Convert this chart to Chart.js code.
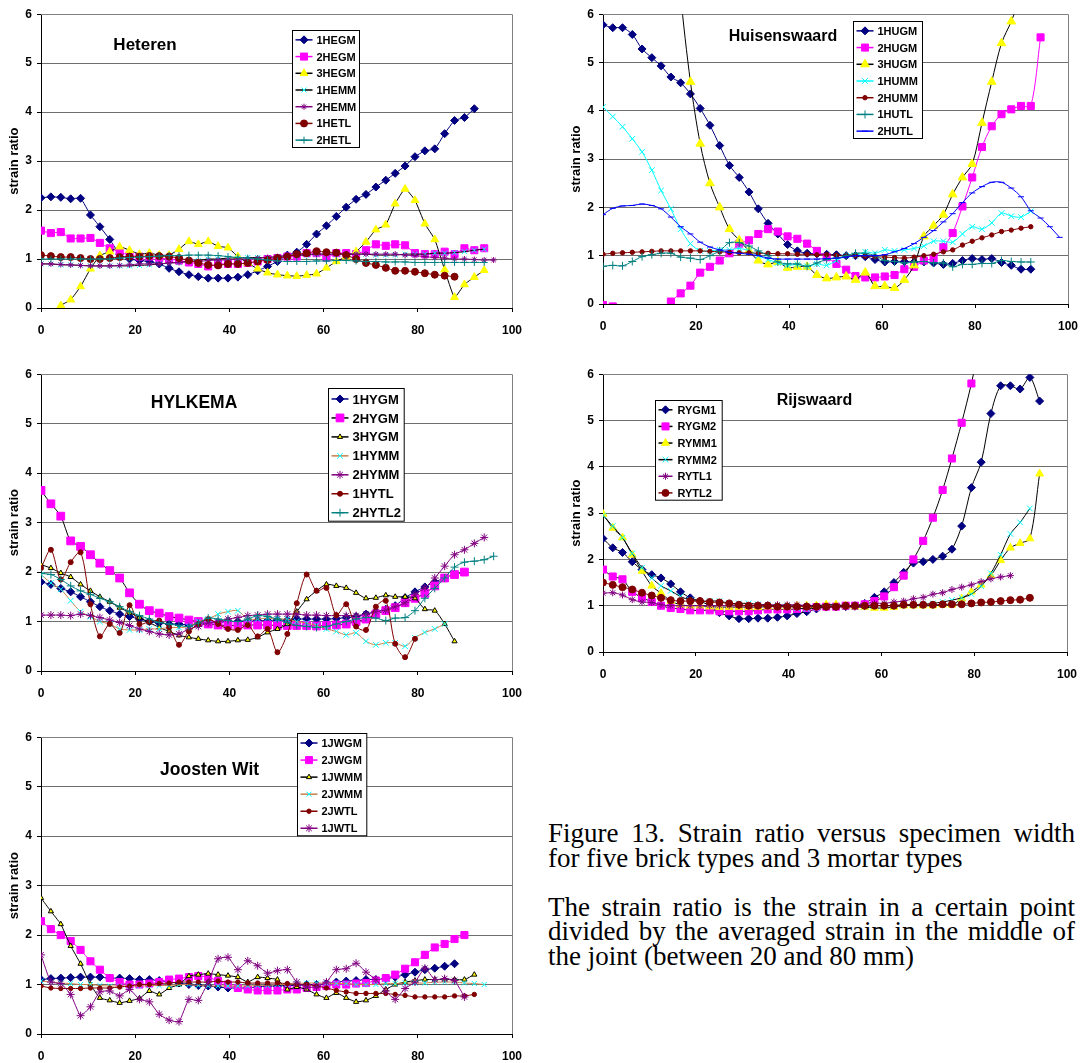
<!DOCTYPE html>
<html>
<head>
<meta charset="utf-8">
<script src="https://cdn.jsdelivr.net/npm/chart.js@4.4.0/dist/chart.umd.min.js"></script>
<style>
  body { margin: 0; background: #fff; width: 1080px; height: 1063px; position: relative; overflow: hidden; }
  canvas { position: absolute; }
  .note { position: absolute; left: 548px; top: 821px; width: 527px; font-family: "Liberation Serif", serif; font-size: 27px; line-height: 24.5px; color: #000; }
  .note .j { text-align: justify; text-align-last: justify; }
  .note .gap { height: 24.5px; }
</style>
</head>
<body>
<canvas id="heteren"></canvas>
<canvas id="huisenswaard"></canvas>
<canvas id="hylkema"></canvas>
<canvas id="rijswaard"></canvas>
<canvas id="joosten"></canvas>
<div class="note">
  <div class="j">Figure 13. Strain ratio versus specimen width</div>
  <div>for five brick types and 3 mortar types</div>
  <div class="gap"></div>
  <div class="j">The strain ratio is the strain in a certain point</div>
  <div class="j">divided by the averaged strain in the middle of</div>
  <div>the joint (between 20 and 80 mm)</div>
</div>
<script>
// measuring points across the specimen width (mm)
const widthMM = [0, 2.1, 4.2, 6.3, 8.4, 10.5, 12.5, 14.6, 16.7, 18.8, 20.9, 23.0, 25.1, 27.2, 29.3, 31.4,
  33.4, 35.5, 37.6, 39.7, 41.8, 43.9, 46.0, 48.1, 50.2, 52.3, 54.3, 56.4, 58.5, 60.6, 62.7, 64.8,
  66.9, 69.0, 71.1, 73.2, 75.2, 77.3, 79.4, 81.5, 83.6, 85.7, 87.8, 89.9, 92.0, 94.1, 96.1, 98.2];
const xTicks = [0, 20, 40, 60, 80, 100];
const yTicks = [0, 1, 2, 3, 4, 5, 6];

// Heteren
const hegm1 = [2.25,2.27,2.26,2.23,2.24,1.9,1.66,1.4,1.1,1.0,0.97,0.95,0.9,0.81,0.74,0.68,0.64,0.61,0.61,0.61,0.63,0.68,0.76,0.85,0.95,1.08,1.14,1.3,1.51,1.68,1.87,2.06,2.22,2.32,2.47,2.61,2.75,2.9,3.09,3.21,3.25,3.56,3.83,3.89,4.07];
const hegm2 = [1.58,1.53,1.55,1.42,1.42,1.43,1.33,1.22,1.15,1.08,1.05,1.05,1.02,1.0,0.97,0.93,0.9,0.85,0.9,0.9,0.9,0.92,0.95,1.0,1.02,1.05,1.05,1.12,1.12,1.03,1.12,1.12,1.1,1.18,1.3,1.27,1.3,1.28,1.12,1.1,1.1,1.15,1.1,1.22,1.18,1.22];
const hegm3 = [-0.6,-0.2,0.05,0.17,0.44,0.8,1.07,1.15,1.25,1.18,1.1,1.12,1.08,1.08,1.2,1.36,1.3,1.36,1.26,1.23,1.05,0.92,0.8,0.72,0.68,0.66,0.65,0.67,0.7,0.82,0.95,1.05,1.15,1.35,1.6,1.7,2.13,2.43,2.2,1.72,1.4,0.78,0.22,0.48,0.63,0.77];
const hemm1 = [0.9,0.9,0.88,0.88,0.87,0.86,0.86,0.86,0.86,0.86,0.87,0.88,0.9,0.92,0.93,0.95,0.97,1.0,1.0,1.02,1.02,1.03,1.03,1.03,1.05,1.07,1.08,1.08,1.1,1.1,1.1,1.1,1.1,1.1,1.08,1.08,1.08,1.1,1.1,1.1,1.12,1.12,1.13,1.15,1.18,1.2];
const hemm2 = [0.9,0.9,0.89,0.88,0.87,0.86,0.86,0.86,0.87,0.88,0.9,0.9,0.9,0.92,0.93,0.95,0.95,0.97,0.98,0.98,1.0,1.0,1.02,1.03,1.05,1.07,1.08,1.1,1.1,1.1,1.1,1.1,1.1,1.1,1.1,1.1,1.1,1.08,1.07,1.05,1.03,1.02,1.0,1.0,0.99,0.98,0.98];
const hetl1 = [1.08,1.06,1.04,1.04,1.02,1.0,1.0,1.02,1.04,1.05,1.05,1.06,1.06,1.05,1.02,0.97,0.92,0.88,0.87,0.9,0.9,0.92,0.95,0.98,1.02,1.05,1.1,1.12,1.16,1.14,1.13,1.08,1.0,0.92,0.88,0.82,0.76,0.76,0.74,0.71,0.68,0.66,0.64];
const hetl2 = [1.0,1.0,1.0,1.0,1.0,1.0,1.0,1.0,1.02,1.03,1.04,1.05,1.06,1.07,1.07,1.08,1.08,1.08,1.07,1.05,1.03,1.02,1.0,0.98,0.96,0.95,0.95,0.95,0.96,0.96,0.97,0.97,0.96,0.95,0.95,0.94,0.94,0.94,0.93,0.93,0.93,0.93,0.93,0.93,0.93,0.93];

// Huisenswaard
const hugm1 = [5.78,5.72,5.72,5.58,5.28,5.1,4.93,4.7,4.58,4.35,4.05,3.7,3.28,2.87,2.62,2.32,1.97,1.67,1.45,1.23,1.1,1.05,1.04,1.03,1.02,1.0,1.0,0.98,0.92,0.87,0.88,0.88,0.87,0.87,0.85,0.82,0.84,0.9,0.94,0.92,0.94,0.86,0.8,0.72,0.72];
const hugm2 = [-0.02,-0.05,-0.12,-0.3,-0.45,-0.45,-0.2,0.05,0.22,0.38,0.65,0.77,0.9,1.05,1.25,1.32,1.45,1.55,1.5,1.4,1.35,1.25,1.1,0.97,0.83,0.71,0.58,0.55,0.55,0.57,0.6,0.72,0.77,0.9,0.95,1.18,1.47,2.02,2.62,3.25,3.68,3.93,4.03,4.1,4.1,5.52];
const hugm3 = [null,null,null,null,null,null,null,9,6.4,4.6,3.32,2.5,2.0,1.55,1.32,1.1,0.9,0.82,0.87,0.75,0.77,0.77,0.6,0.53,0.55,0.57,0.5,0.65,0.37,0.37,0.33,0.5,0.8,1.4,1.62,1.85,2.27,2.62,2.9,3.75,4.6,5.4,5.85,6.4];
const humm1 = [4.08,3.88,3.67,3.42,3.15,2.77,2.35,1.97,1.55,1.25,1.1,1.1,1.12,1.12,1.15,1.1,1.0,0.92,0.85,0.8,0.82,0.78,0.83,0.8,0.9,1.0,1.0,1.08,1.05,1.12,1.1,1.12,1.15,1.2,1.3,1.3,1.28,1.45,1.6,1.55,1.68,1.88,1.82,1.8,1.92];
const humm2 = [1.03,1.05,1.06,1.07,1.08,1.09,1.1,1.1,1.1,1.1,1.1,1.09,1.08,1.07,1.06,1.06,1.05,1.05,1.04,1.04,1.03,1.03,1.02,1.02,1.01,1.0,1.0,0.99,0.98,0.97,0.96,0.95,0.97,1.0,1.03,1.08,1.12,1.22,1.3,1.37,1.43,1.5,1.53,1.57,1.6];
const hutl1 = [0.78,0.8,0.79,0.88,0.98,1.02,1.05,1.05,0.97,0.95,0.92,1.0,1.1,1.27,1.27,1.2,1.1,1.0,0.87,0.83,0.83,0.78,0.85,0.92,0.95,1.0,1.05,1.05,1.0,0.9,0.88,0.85,0.87,0.88,0.85,0.85,0.77,0.82,0.82,0.84,0.84,0.9,0.88,0.87,0.87];
const hutl2 = [1.85,1.98,2.03,2.04,2.07,2.04,1.97,1.8,1.6,1.45,1.28,1.18,1.12,1.07,1.05,1.03,1.0,0.95,0.93,0.93,0.93,0.93,0.93,0.94,0.95,0.97,1.0,1.0,1.0,1.02,1.08,1.15,1.25,1.38,1.52,1.7,1.87,2.1,2.3,2.43,2.52,2.52,2.4,2.22,1.93,1.78,1.6,1.38];

// HYLKEMA
const hygm1 = [1.8,1.75,1.67,1.6,1.5,1.4,1.3,1.22,1.15,1.1,1.05,1.0,0.97,0.95,0.95,0.93,0.95,0.97,0.98,1.0,1.0,1.0,1.02,1.02,1.03,1.03,1.05,1.05,1.05,1.05,1.06,1.08,1.1,1.15,1.2,1.25,1.32,1.48,1.6,1.7,1.8,1.88];
const hygm2 = [3.65,3.38,3.13,2.63,2.52,2.35,2.18,2.03,1.88,1.58,1.35,1.22,1.17,1.1,1.07,1.03,1.0,0.95,0.93,0.92,0.92,0.93,0.93,0.93,0.92,0.92,0.92,0.92,0.91,0.92,0.93,0.95,1.0,1.05,1.15,1.22,1.28,1.38,1.47,1.57,1.72,1.88,1.95,2.0];
const hygm3 = [2.15,2.08,1.98,1.9,1.75,1.62,1.5,1.4,1.28,1.18,1.08,0.98,0.88,0.8,0.72,0.68,0.65,0.62,0.6,0.6,0.62,0.63,0.68,0.78,0.85,0.95,1.2,1.45,1.62,1.75,1.72,1.68,1.58,1.47,1.48,1.53,1.5,1.5,1.47,1.25,1.22,0.95,0.6];
const hymm1 = [1.95,1.78,1.65,1.42,1.2,1.1,1.0,0.95,0.85,0.83,0.83,0.85,0.85,0.88,0.88,0.9,1.0,1.05,1.15,1.2,1.22,1.05,1.05,1.07,1.05,1.05,1.0,0.97,0.92,0.85,0.8,0.73,0.77,0.6,0.53,0.57,0.57,0.5,0.67,0.78,0.85,0.95];
const hymm2 = [1.13,1.13,1.13,1.12,1.15,1.12,1.08,1.03,0.98,0.92,0.85,0.8,0.75,0.73,0.75,0.85,0.9,0.97,1.0,1.05,1.08,1.12,1.13,1.15,1.15,1.15,1.15,1.13,1.13,1.12,1.12,1.12,1.12,1.15,1.2,1.23,1.3,1.38,1.55,1.68,1.88,2.12,2.35,2.45,2.58,2.7];
const hytl1 = [2.08,2.45,1.85,2.2,2.4,1.35,0.7,0.95,0.77,1.33,0.95,1.0,1.02,0.88,0.53,0.8,0.95,1.05,0.95,0.85,0.83,0.93,0.7,0.85,0.38,0.75,1.37,1.95,1.62,1.68,1.13,1.35,0.9,0.83,1.3,1.42,0.55,0.28,0.65];
const hytl2 = [1.97,1.95,1.85,1.72,1.62,1.55,1.47,1.4,1.3,1.2,1.12,1.05,0.98,0.95,0.92,0.9,0.97,1.07,1.05,1.02,1.0,1.05,1.12,1.1,1.05,0.98,0.92,0.9,0.88,0.9,0.95,1.0,1.05,1.08,1.07,1.02,1.07,1.08,1.22,1.47,1.67,1.88,2.1,2.2,2.22,2.25,2.32];

// Rijswaard
const rygm1 = [2.45,2.25,2.15,1.95,1.78,1.67,1.6,1.47,1.3,1.17,1.1,1.0,0.85,0.78,0.72,0.72,0.73,0.73,0.75,0.78,0.83,0.87,0.93,0.97,0.98,0.98,1.0,1.05,1.18,1.3,1.5,1.72,1.92,1.95,2.0,2.07,2.22,2.72,3.55,4.1,5.15,5.75,5.75,5.68,5.93,5.42];
const rygm2 = [1.78,1.63,1.57,1.3,1.18,1.08,1.0,0.95,0.93,0.9,0.9,0.9,0.88,0.88,0.88,0.88,0.9,0.92,0.92,0.92,0.93,0.95,0.97,0.98,0.98,1.0,1.0,1.03,1.1,1.2,1.4,1.65,2.0,2.4,2.9,3.5,4.18,4.95,5.8,6.8];
const rymm1 = [2.98,2.68,2.47,2.1,1.75,1.43,1.27,1.1,1.02,1.0,1.0,0.98,0.97,0.97,0.97,0.97,0.97,0.98,0.98,0.98,1.0,1.0,1.0,1.02,1.02,1.0,0.98,0.97,0.95,0.95,0.97,1.0,1.0,1.0,1.0,1.02,1.02,1.15,1.3,1.45,1.65,1.98,2.25,2.35,2.45,3.85];
const rymm2 = [2.95,2.72,2.47,2.13,1.82,1.6,1.43,1.32,1.2,1.12,1.1,1.1,1.1,1.05,1.05,1.05,1.03,1.02,1.0,1.0,0.95,0.93,0.95,0.97,0.98,0.98,0.98,0.98,1.0,1.0,1.0,1.02,1.02,1.03,1.05,1.08,1.12,1.17,1.25,1.42,1.7,2.1,2.55,2.8,3.1];
const rytl1 = [1.27,1.28,1.23,1.13,1.08,1.07,1.02,1.0,1.0,1.0,1.0,1.0,1.0,1.0,1.0,1.0,1.02,1.02,1.02,1.02,1.02,1.0,0.98,0.97,0.97,0.97,0.97,0.98,1.05,1.05,1.08,1.1,1.15,1.18,1.25,1.28,1.35,1.4,1.45,1.52,1.58,1.62,1.65];
const rytl2 = [1.5,1.45,1.4,1.35,1.28,1.22,1.17,1.12,1.1,1.1,1.1,1.08,1.07,1.05,1.02,1.0,1.0,1.0,0.98,0.98,0.98,0.98,0.98,0.98,0.98,1.0,1.0,1.0,1.0,1.0,1.0,1.02,1.02,1.02,1.02,1.03,1.03,1.03,1.05,1.07,1.08,1.1,1.12,1.13,1.17];

// Joosten Wit
const jwgm1 = [1.1,1.12,1.13,1.14,1.15,1.15,1.15,1.13,1.13,1.12,1.1,1.1,1.08,1.05,1.03,1.0,0.98,0.97,0.95,0.93,0.93,0.93,0.95,0.97,0.97,0.98,0.98,1.0,1.0,1.02,1.05,1.07,1.08,1.1,1.1,1.12,1.15,1.2,1.25,1.3,1.33,1.37,1.42];
const jwgm2 = [2.28,2.12,2.0,1.88,1.7,1.47,1.3,1.13,1.05,1.0,1.0,1.02,1.05,1.1,1.12,1.15,1.17,1.15,1.07,1.0,0.93,0.9,0.88,0.88,0.88,0.9,0.9,0.93,0.95,0.97,1.0,1.0,1.02,1.03,1.08,1.13,1.2,1.32,1.45,1.6,1.75,1.82,1.92,2.0];
const jwmm1 = [2.75,2.48,2.22,1.78,1.42,1.0,0.73,0.68,0.63,0.67,0.72,0.87,0.8,0.93,1.0,1.17,1.2,1.22,1.2,1.18,1.15,1.05,1.15,1.13,1.1,0.9,0.95,0.9,0.8,0.73,0.83,0.73,0.65,0.68,0.77,0.9,1.0,1.05,1.08,1.1,1.1,1.1,1.1,1.1,1.2];
const jwmm2 = [1.07,1.05,1.03,1.02,1.0,1.0,0.98,0.97,0.97,0.97,0.97,0.98,0.98,0.98,1.0,1.0,0.98,0.97,0.97,0.97,0.97,0.97,0.98,0.98,1.0,1.0,1.02,1.03,1.03,1.03,1.02,1.02,1.0,1.0,1.0,1.02,1.02,1.03,1.03,1.03,1.05,1.05,1.05,1.03,1.02,1.0];
const jwtl2 = [0.97,0.93,0.92,0.92,0.92,0.93,0.93,0.93,0.95,0.97,1.0,1.0,1.02,1.03,1.05,1.05,1.05,1.05,1.07,1.05,1.05,1.03,1.03,1.03,1.03,1.02,1.0,1.0,0.97,0.93,0.88,0.85,0.82,0.82,0.82,0.82,0.8,0.78,0.75,0.75,0.75,0.75,0.77,0.77,0.8];
const jwtl1 = [1.6,1.05,1.02,0.8,0.37,0.55,0.85,0.87,0.77,0.9,0.7,0.65,0.4,0.28,0.25,0.7,0.68,1.05,1.52,1.55,1.3,1.48,1.38,1.23,1.28,1.3,1.05,0.95,0.95,1.05,1.3,1.32,1.43,1.25,1.1,0.87,0.7,0.92,1.05,1.33,1.1,1.12,1.08,0.75];

// Excel-ish palette
const NAVY = '#000080', MAGENTA = '#ff00ff', YELLOW = '#ffff00', CYAN = '#00ffff',
  PURPLE = '#800080', MAROON = '#800000', TEAL = '#008080', BLUE = '#0000ff', BROWN = '#c8804a', BLACK = '#000000';

// plot area of each panel on the page: left, top, right, bottom
const plotBox = {
  heteren: [40.7, 12.3, 511.7, 308.3],
  huisenswaard: [602.5, 12.3, 1067, 304.5],
  hylkema: [40.7, 372.3, 511.7, 671.7],
  rijswaard: [603, 371.7, 1067, 652],
  joosten: [40.7, 735, 511.7, 1034.3]
};

const pts = vals => vals.map((v, i) => ({ x: widthMM[i], y: v }));

function series(label, vals, line, shape, fill, edge, r) {
  return {
    label: label,
    data: pts(vals),
    borderColor: line,
    borderWidth: 1,
    pointStyle: shape,
    pointBackgroundColor: fill,
    pointBorderColor: edge || fill,
    pointBorderWidth: 1,
    pointRadius: r,
    pointHoverRadius: r
  };
}

const tickFont = { family: 'Liberation Sans', weight: 'bold', size: 12 };

// frame, in-plot title and boxed legend
const panelDecor = {
  id: 'panelDecor',
  beforeDatasetsDraw(chart) {
    const { ctx, chartArea: a } = chart;
    ctx.save();
    ctx.strokeStyle = '#808080';
    ctx.lineWidth = 1;
    ctx.beginPath();
    ctx.moveTo(a.left, Math.round(a.top) + 0.5);
    ctx.lineTo(Math.round(a.right) + 0.5, Math.round(a.top) + 0.5);
    ctx.lineTo(Math.round(a.right) + 0.5, a.bottom);
    ctx.stroke();
    ctx.restore();
  },
  afterDraw(chart, args, opts) {
    const { ctx, chartArea: a } = chart;
    ctx.save();
    ctx.fillStyle = '#000';
    ctx.textAlign = 'center';
    ctx.textBaseline = 'middle';
    ctx.font = 'bold ' + opts.titleSize + 'px "Liberation Sans"';
    ctx.fillText(opts.title, a.left + opts.titleX, a.top + opts.titleY);

    const lg = opts.legend;
    const x0 = Math.round(a.left + lg.x) + 0.5, y0 = Math.round(a.top + lg.y) + 0.5;
    ctx.fillStyle = '#fff';
    ctx.fillRect(x0, y0, lg.w, lg.h);
    ctx.strokeStyle = '#000';
    ctx.lineWidth = 1;
    ctx.strokeRect(x0, y0, lg.w, lg.h);
    const sets = chart.data.datasets;
    const rowH = lg.h / sets.length;
    ctx.font = 'bold ' + lg.size + 'px "Liberation Sans"';
    ctx.textAlign = 'left';
    sets.forEach((ds, k) => {
      const cy = y0 + (k + 0.5) * rowH + 1;
      ctx.strokeStyle = ds.borderColor;
      ctx.lineWidth = 1.5;
      ctx.beginPath();
      ctx.moveTo(x0 + 3, cy);
      ctx.lineTo(x0 + lg.lineEnd, cy);
      ctx.stroke();
      ctx.fillStyle = ds.pointBackgroundColor;
      ctx.strokeStyle = ds.pointBorderColor;
      ctx.lineWidth = 1;
      Chart.helpers.drawPoint(ctx, { pointStyle: ds.pointStyle, radius: ds.pointRadius, rotation: 0, borderWidth: 1 },
        x0 + (3 + lg.lineEnd) / 2, cy);
      ctx.fillStyle = '#000';
      ctx.fillText(ds.label, x0 + lg.textX, cy + 1);
    });
    ctx.restore();
  }
};

function makePanel(id, datasets, decor, tension) {
  const [L, T, R, B] = plotBox[id];
  const padL = 45, padT = 10, padR = 25, padB = 32;
  const cv = document.getElementById(id);
  cv.width = Math.round(R - L) + padL + padR;
  cv.height = Math.round(B - T) + padT + padB;
  cv.style.left = (L - padL) + 'px';
  cv.style.top = (T - padT) + 'px';

  datasets.forEach((ds, k) => {
    ds.order = -k; // later series on top, like the spreadsheet
    ds.tension = tension;
  });

  new Chart(cv, {
    type: 'line',
    data: { datasets: datasets },
    options: {
      responsive: false,
      animation: false,
      events: [],
      layout: { padding: { left: 0, top: padT, right: padR, bottom: 0 } },
      plugins: {
        legend: { display: false },
        tooltip: { enabled: false },
        panelDecor: decor
      },
      scales: {
        x: {
          type: 'linear',
          min: xTicks[0],
          max: xTicks[xTicks.length - 1],
          afterBuildTicks: s => { s.ticks = xTicks.map(v => ({ value: v })); },
          afterFit: s => { s.height = padB; },
          ticks: { font: tickFont, color: '#000', padding: 11, maxRotation: 0 },
          grid: { drawOnChartArea: false, drawTicks: true, tickLength: 4, tickColor: '#000' },
          border: { color: '#000', width: 1 }
        },
        y: {
          min: yTicks[0],
          max: yTicks[yTicks.length - 1],
          afterBuildTicks: s => { s.ticks = yTicks.map(v => ({ value: v })); },
          afterFit: s => { s.width = padL; },
          ticks: { font: tickFont, color: '#000', padding: 5 },
          grid: { color: '#6e6e6e', lineWidth: 1, tickLength: 4, tickColor: '#000' },
          border: { color: '#000', width: 1 },
          title: {
            display: true,
            text: 'strain ratio',
            color: '#000',
            font: { family: 'Liberation Sans', weight: 'bold', size: 13 },
            padding: { top: 11, bottom: 0 }
          }
        }
      }
    },
    plugins: [panelDecor]
  });
}

makePanel('heteren', [
  series('1HEGM', hegm1, NAVY, 'rectRot', NAVY, null, 4),
  series('2HEGM', hegm2, MAGENTA, 'rect', MAGENTA, null, 5),
  series('3HEGM', hegm3, BLACK, 'triangle', YELLOW, YELLOW, 4.5),
  series('1HEMM', hemm1, BLACK, 'crossRot', CYAN, CYAN, 3.5),
  series('2HEMM', hemm2, PURPLE, 'star', PURPLE, PURPLE, 3),
  series('1HETL', hetl1, MAROON, 'circle', MAROON, null, 3.5),
  series('2HETL', hetl2, TEAL, 'cross', TEAL, TEAL, 3.5)
], { title: 'Heteren', titleSize: 17, titleX: 104, titleY: 31,
     legend: { x: 251, y: 16, w: 67, h: 117, size: 11, lineEnd: 20, textX: 24 } }, 0.15);

makePanel('huisenswaard', [
  series('1HUGM', hugm1, NAVY, 'rectRot', NAVY, null, 4),
  series('2HUGM', hugm2, MAGENTA, 'rect', MAGENTA, null, 5),
  series('3HUGM', hugm3, BLACK, 'triangle', YELLOW, YELLOW, 5),
  series('1HUMM', humm1, CYAN, 'crossRot', CYAN, CYAN, 4),
  series('2HUMM', humm2, MAROON, 'circle', MAROON, null, 2.2),
  series('1HUTL', hutl1, TEAL, 'cross', TEAL, TEAL, 4),
  series('2HUTL', hutl2, BLUE, 'line', BLUE, BLUE, 3)
], { title: 'Huisenswaard', titleSize: 16, titleX: 180, titleY: 22,
     legend: { x: 249.5, y: 6.7, w: 69, h: 117, size: 11, lineEnd: 20, textX: 24 } }, 0.3);

makePanel('hylkema', [
  series('1HYGM', hygm1, NAVY, 'rectRot', NAVY, null, 4),
  series('2HYGM', hygm2, BLACK, 'rect', MAGENTA, null, 5.5),
  series('3HYGM', hygm3, BLACK, 'triangle', YELLOW, BLACK, 3),
  series('1HYMM', hymm1, BROWN, 'crossRot', CYAN, CYAN, 4),
  series('2HYMM', hymm2, PURPLE, 'star', PURPLE, PURPLE, 4),
  series('1HYTL', hytl1, MAROON, 'circle', MAROON, null, 2.5),
  series('2HYTL2', hytl2, TEAL, 'cross', TEAL, TEAL, 4)
], { title: 'HYLKEMA', titleSize: 17.5, titleX: 153, titleY: 29,
     legend: { x: 287.3, y: 13.7, w: 75.7, h: 132.7, size: 13, lineEnd: 20, textX: 24 } }, 0.3);

makePanel('rijswaard', [
  series('RYGM1', rygm1, BLACK, 'rectRot', NAVY, null, 4),
  series('RYGM2', rygm2, BLACK, 'rect', MAGENTA, null, 5),
  series('RYMM1', rymm1, BLACK, 'triangle', YELLOW, YELLOW, 4.5),
  series('RYMM2', rymm2, BLACK, 'crossRot', CYAN, CYAN, 4),
  series('RYTL1', rytl1, PURPLE, 'star', PURPLE, PURPLE, 3.5),
  series('RYTL2', rytl2, MAROON, 'circle', MAROON, null, 3.5)
], { title: 'Rijswaard', titleSize: 16, titleX: 211.5, titleY: 26.3,
     legend: { x: 52, y: 25.7, w: 66.7, h: 99.7, size: 11, lineEnd: 17, textX: 22 } }, 0.3);

makePanel('joosten', [
  series('1JWGM', jwgm1, NAVY, 'rectRot', NAVY, null, 4),
  series('2JWGM', jwgm2, MAGENTA, 'rect', MAGENTA, null, 5),
  series('1JWMM', jwmm1, BLACK, 'triangle', YELLOW, BLACK, 3),
  series('2JWMM', jwmm2, BROWN, 'crossRot', CYAN, CYAN, 3.5),
  series('2JWTL', jwtl2, MAROON, 'circle', MAROON, null, 2.2),
  series('1JWTL', jwtl1, PURPLE, 'star', PURPLE, PURPLE, 4)
], { title: 'Joosten Wit', titleSize: 17.5, titleX: 168.6, titleY: 33,
     legend: { x: 256, y: -4, w: 69.3, h: 102.3, size: 11, lineEnd: 20, textX: 24 } }, 0.15);
</script>
</body>
</html>
